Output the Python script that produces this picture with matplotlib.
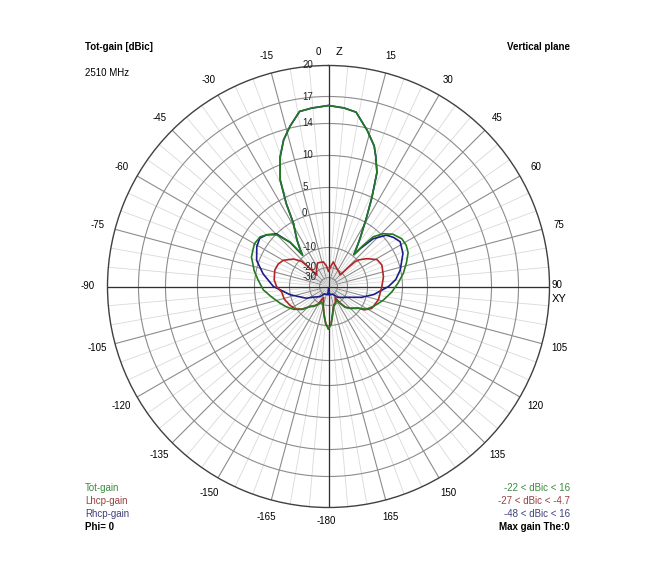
import numpy as np
import matplotlib
matplotlib.use("Agg")
from matplotlib import pyplot as plt

plt.rcParams['font.family'] = ['Liberation Sans', 'DejaVu Sans']

# radial scale of the chart (dB -> distance from centre, pixels)
scale_db = [-60, -50, -40, -30, -20, -10, 0, 5, 10, 14, 17, 20, 40]
scale_px = [0, 1.5, 4.5, 9, 19, 39, 74, 99, 131, 163, 190, 221, 400]
ring_db = [-30, -20, -10, 0, 5, 10, 14, 17]
ring_labels = ['-30', '-20', '-10', '0', '5', '10', '14', '17', '20']

# Tot-gain (green)
tot_theta = [-180, -176, -171, -163, -156, -150, -143, -138, -131, -123, -116, -109, -100, -93,
             -85, -78, -69, -64, -60, -54, -50, -45, -41, -39.5, -37, -34, -31, -29, -27, -24.4,
             -20.5, -17, -13.5, -9.4, -5.4, 0, 5, 9, 14, 18, 20, 23, 26, 29, 33, 36, 38.5, 40,
             42, 46, 51, 57, 62, 67, 73, 80, 87, 95, 104, 114, 121, 126, 135, 141, 145, 149,
             157, 166, 172, 176, 180]
tot_db = [-9, -10.5, -15, -20, -22, -19, -17, -16, -12, -9.2, -7.8, -6.5, -4.5, -2.5,
          -1, 0.4, 1.7, 2.0, 2.3, 2.1, 1.3, -0.3, -4.3, -9.5, -7.5, -5, -2.5, -0.5, 3.8, 7.8,
          10.9, 12.8, 14.2, 15.6, 15.8, 16, 15.8, 15.5, 13.7, 12.1, 10.9, 8.9, 5, 0.8, -4.4, -7.5, -9.5, -6,
          -2, 0.4, 1.8, 2.7, 2.8, 2.5, 1.5, 0.4, -1.2, -3, -5, -7.1, -8.6, -11, -13.9, -16, -19, -23,
          -21, -19, -15, -10.5, -9]

# Lhcp-gain (red)
lhcp_theta = [-180, -176, -171, -163, -156, -150, -143, -138, -131, -124, -116, -106, -97, -90,
              -83, -73, -66, -60, -52, -47, -46, -45.5, -35, -25, -12, -6, 0, 5, 11, 24, 35, 45,
              45.5, 46, 47, 48.5, 54, 61, 68, 80, 90, 105, 117, 123, 126, 135, 141, 145, 149,
              157, 166, 172, 176]
lhcp_db = [-9.3, -10.8, -15.3, -20.5, -27, -19.5, -17.3, -16.3, -12.3, -9.7, -8.9, -8, -7.7, -6.3,
           -5.5, -5.1, -5.4, -6.2, -8.4, -11, -15, -22.5, -19, -16.5, -16.9, -19, -24, -20, -17, -19.5,
           -21, -22.5, -22, -16, -11.3, -9.7, -7.6, -5.3, -4.7, -5.2, -5.9, -6.4, -7.3, -8.9, -11.2,
           -14.2, -16.3, -19.4, -26, -21.4, -19.4, -15.3, -10.8]

# Rhcp-gain (blue)
rhcp_theta = [-180, -175, -165, -150, -140, -125, -118, -102, -90, -79, -70, -61, -55, -50, -44.6,
              -41, -39.5, -37, -34, -31, -29, -27, -24.4, -20.5, -17, -13.5, -9.4, -5.4, 0, 5, 9,
              14, 18, 20, 23, 26, 29, 33, 36, 38.5, 40, 43, 48.5, 53, 58, 66, 77, 84, 90, 100,
              108, 118, 130, 140, 150, 165, 175]
rhcp_db = [-48, -33, -32, -31, -25.7, -20.5, -17, -9.9, -5.4, -2.1, 0.5, 1.6, 2, 1.3, 0,
           -4.5, -9.5, -7.5, -5, -2.5, -0.5, 3.8, 7.8, 10.9, 12.8, 14.2, 15.6, 15.8, 16, 15.8, 15.5,
           13.7, 12.1, 10.9, 8.9, 5, 0.8, -4.4, -7.5, -9.5, -7, -2.5, 0.7, 1.5, 2.1, 1.5, -0.1, -1.8, -4, -8,
           -12, -18, -22, -25, -30, -32, -33]

W, H = 652, 573
cx, cy, R = 328.5, 286.5, 221

fig = plt.figure(figsize=(W / 100, H / 100), dpi=100)
ax = fig.add_axes([(cx - R) / W, (H - cy - R) / H, 2 * R / W, 2 * R / H], projection='polar')


def fwd(x):
    return np.interp(x, scale_db, scale_px)


def inv(y):
    return np.interp(y, scale_px, scale_db)


ax.set_rscale('function', functions=(fwd, inv))
ax.set_theta_zero_location('N')
ax.set_theta_direction(-1)
ax.set_rlim(-60, 20)

# grid
ax.set_xticks(np.deg2rad(np.arange(0, 360, 15)))
ax.set_xticks(np.deg2rad(np.arange(0, 360, 5)), minor=True)
ax.set_xticklabels([])
ax.set_yticks(ring_db)
ax.set_yticklabels([])
ax.xaxis.grid(True, which='major', color='#8c8c8c', lw=0.8)
ax.xaxis.grid(True, which='minor', color='#d9d9d9', lw=0.6)
ax.yaxis.grid(True, color='#8c8c8c', lw=0.8)
ax.tick_params(axis='both', which='both', length=0)
ax.spines['polar'].set_color('#404040')
ax.spines['polar'].set_linewidth(1.0)

for a in [0, 90, 180, 270]:
    ax.plot([np.deg2rad(a)] * 2, [-60, 20], color='#303030', lw=0.9, zorder=2)

th = lambda t: np.deg2rad(np.array(t))
ax.plot(th(rhcp_theta), rhcp_db, color='#1c1c8a', lw=1.2, zorder=3)
ax.plot(th(lhcp_theta), lhcp_db, color='#b02525', lw=1.2, zorder=4)
ax.plot(th(tot_theta), tot_db, color='#237a23', lw=1.2, zorder=5)

# radial labels along the 0 deg line
for v, lbl in zip(ring_db + [20], ring_labels):
    ax.annotate(lbl, xy=(0, v), xytext=(-19, 0), textcoords='offset points',
                ha='left', va='center', fontsize=7, color='#222222', zorder=6)

# angle labels
k = 239 / 221
for a in range(-165, 180, 15):
    if a in (0, 90, -90):
        continue
    x = 0.5 + 0.5 * k * np.sin(np.deg2rad(a))
    y = 0.5 + 0.5 * k * np.cos(np.deg2rad(a))
    ax.text(x, y, str(a), transform=ax.transAxes, ha='center', va='center', fontsize=7)
fig.text(326 / W, 1 - 521 / H, '-180', ha='center', va='center', fontsize=7)
fig.text(88 / W, 1 - 286 / H, '-90', ha='center', va='center', fontsize=7)
fig.text(557 / W, 1 - 285 / H, '90', ha='center', va='center', fontsize=7)
fig.text(559 / W, 1 - 299 / H, 'XY', ha='center', va='center', fontsize=8)
fig.text(318 / W, 1 - 52 / H, '0', ha='center', va='center', fontsize=7)
fig.text(339 / W, 1 - 52 / H, 'Z', ha='center', va='center', fontsize=8)

# header and legend texts
fig.text(85 / W, 1 - 47 / H, 'Tot-gain [dBic]', ha='left', va='center', fontsize=7, fontweight='bold')
fig.text(85 / W, 1 - 73 / H, '2510 MHz', ha='left', va='center', fontsize=7)
fig.text(570 / W, 1 - 47 / H, 'Vertical plane', ha='right', va='center', fontsize=7, fontweight='bold')

fig.text(85 / W, 1 - 488 / H, 'Tot-gain', ha='left', va='center', fontsize=7, color='#3d8a3d')
fig.text(85 / W, 1 - 501 / H, 'Lhcp-gain', ha='left', va='center', fontsize=7, color='#9c4040')
fig.text(85 / W, 1 - 514 / H, 'Rhcp-gain', ha='left', va='center', fontsize=7, color='#40407c')
fig.text(85 / W, 1 - 527 / H, 'Phi= 0', ha='left', va='center', fontsize=7, fontweight='bold')

fig.text(570 / W, 1 - 488 / H, '-22 < dBic < 16', ha='right', va='center', fontsize=7, color='#3d8a3d')
fig.text(570 / W, 1 - 501 / H, '-27 < dBic < -4.7', ha='right', va='center', fontsize=7, color='#9c4040')
fig.text(570 / W, 1 - 514 / H, '-48 < dBic < 16', ha='right', va='center', fontsize=7, color='#40407c')
fig.text(570 / W, 1 - 527 / H, 'Max gain The:0', ha='right', va='center', fontsize=7, fontweight='bold')

fig.savefig('out.png', dpi=100)
